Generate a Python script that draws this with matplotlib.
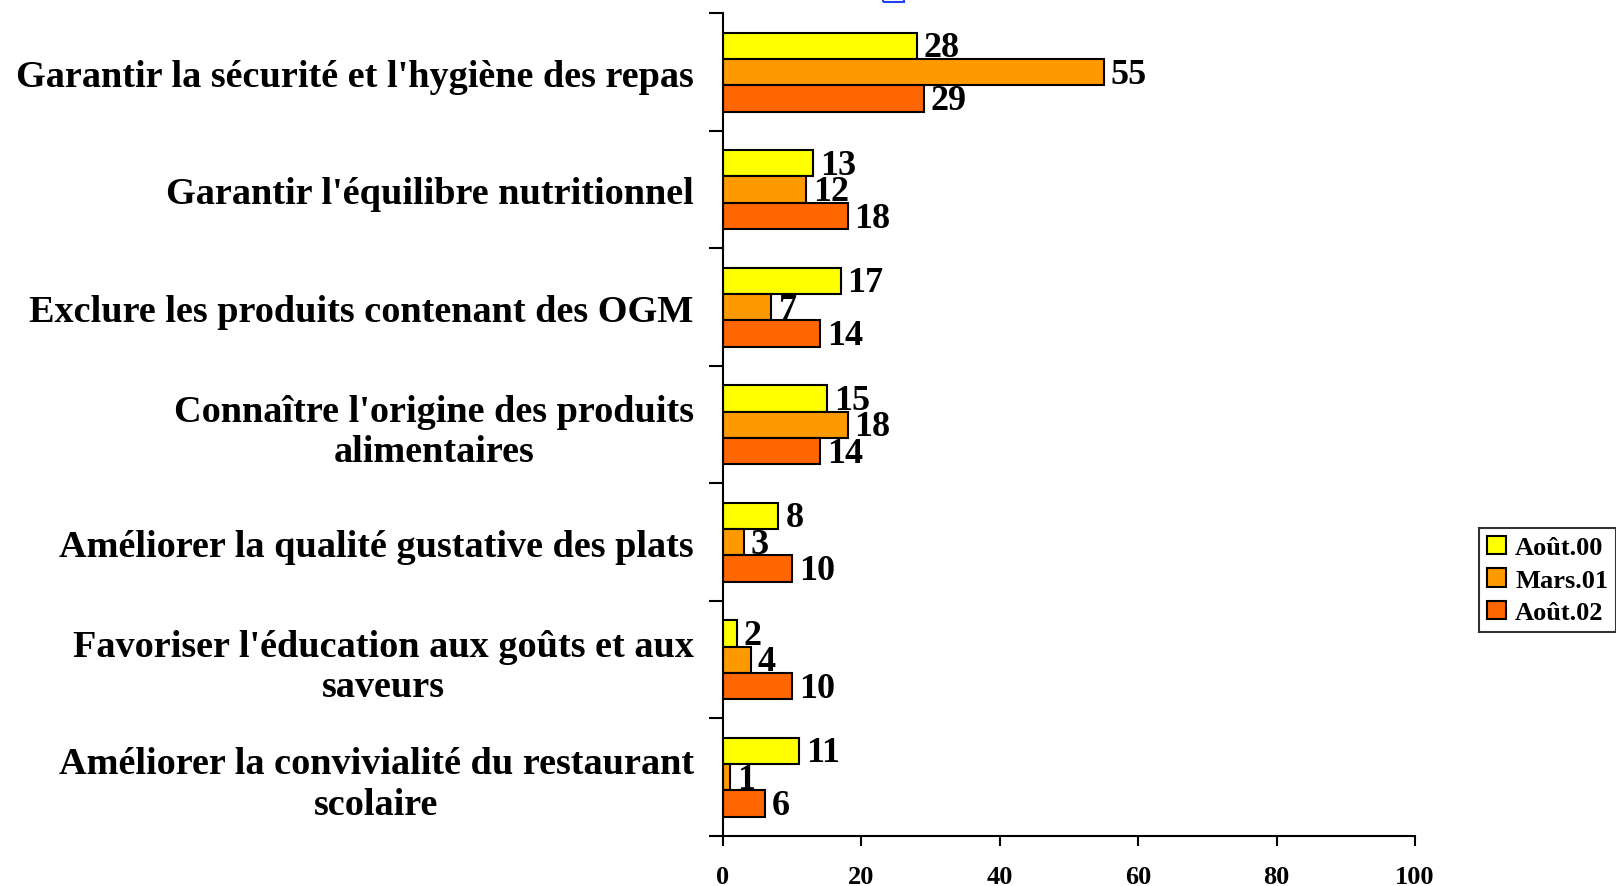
import numpy as np
import matplotlib.pyplot as plt
import matplotlib.patches as mpatches

plt.rcParams['font.family'] = ['Liberation Serif', 'DejaVu Serif']
plt.rcParams['font.weight'] = 'bold'

categories = [
    "Garantir la sécurité et l'hygiène des repas",
    "Garantir l'équilibre nutritionnel",
    "Exclure les produits contenant des OGM",
    "Connaître l'origine des produits\nalimentaires",
    "Améliorer la qualité gustative des plats",
    "Favoriser l'éducation aux goûts et aux\nsaveurs",
    "Améliorer la convivialité du restaurant\nscolaire",
]
series_names = ["Août.00", "Mars.01", "Août.02"]
aout00 = [28, 13, 17, 15, 8, 2, 11]
mars01 = [55, 12, 7, 18, 3, 4, 1]
aout02 = [29, 18, 14, 14, 10, 10, 6]
colors = ["#FFFF00", "#FF9900", "#FF6600"]
xticks = [0, 20, 40, 60, 80, 100]

fig = plt.figure(figsize=(16.16, 8.87), dpi=100)
ax = fig.add_axes([0.4474, 0.0564, 0.8756 - 0.4474, 0.9838 - 0.0564])

y = np.arange(len(categories))
h = 0.224
for i, (vals, name, c) in enumerate(zip([aout00, mars01, aout02], series_names, colors)):
    pos = y + (i - 1) * h
    ax.barh(pos, vals, height=h, color=c, edgecolor='black', linewidth=1.5, label=name)
    for p, v in zip(pos, vals):
        ax.annotate(str(v), (v, p), xytext=(5, -1.5), textcoords='offset points',
                    ha='left', va='center', fontsize=26, fontweight='bold')

ax.set_xlim(0, 100)
ax.set_ylim(len(categories) - 0.5, -0.5)
ax.set_xticks(xticks)
ax.set_xticklabels([str(t) for t in xticks], fontsize=19, fontweight='bold')
ax.tick_params(axis='x', direction='out', length=7, width=1.5, pad=14)

# category boundaries as tick marks, labels as minor ticks
ax.set_yticks(np.arange(-0.5, len(categories) + 0.5, 1))
ax.set_yticklabels([])
ax.set_yticks(y, minor=True)
ax.set_yticklabels(categories, minor=True, fontsize=27.5, fontweight='bold',
                   multialignment='center')
ax.tick_params(axis='y', which='major', direction='out', length=10, width=1.5)
ax.tick_params(axis='y', which='minor', length=0, pad=21)

for s in ['top', 'right']:
    ax.spines[s].set_visible(False)
for s in ['left', 'bottom']:
    ax.spines[s].set_linewidth(1.5)

leg = fig.legend(loc='center left', bbox_to_anchor=(0.9155, 0.345), fontsize=19,
                 frameon=True, fancybox=False, edgecolor='black', handlelength=0.7,
                 handleheight=0.7, handletextpad=0.35, borderpad=0.3, labelspacing=0.35,
                 borderaxespad=0)
leg.get_frame().set_linewidth(1.5)
for t in leg.get_texts():
    t.set_fontweight('bold')

# small blue mark at the top
fig.patches.append(mpatches.Rectangle((0.5465, 0.9965), 0.013, 0.004, transform=fig.transFigure,
                                      facecolor='none', edgecolor='#2040FF', linewidth=1.5))

fig.savefig('out.png', dpi=100)
